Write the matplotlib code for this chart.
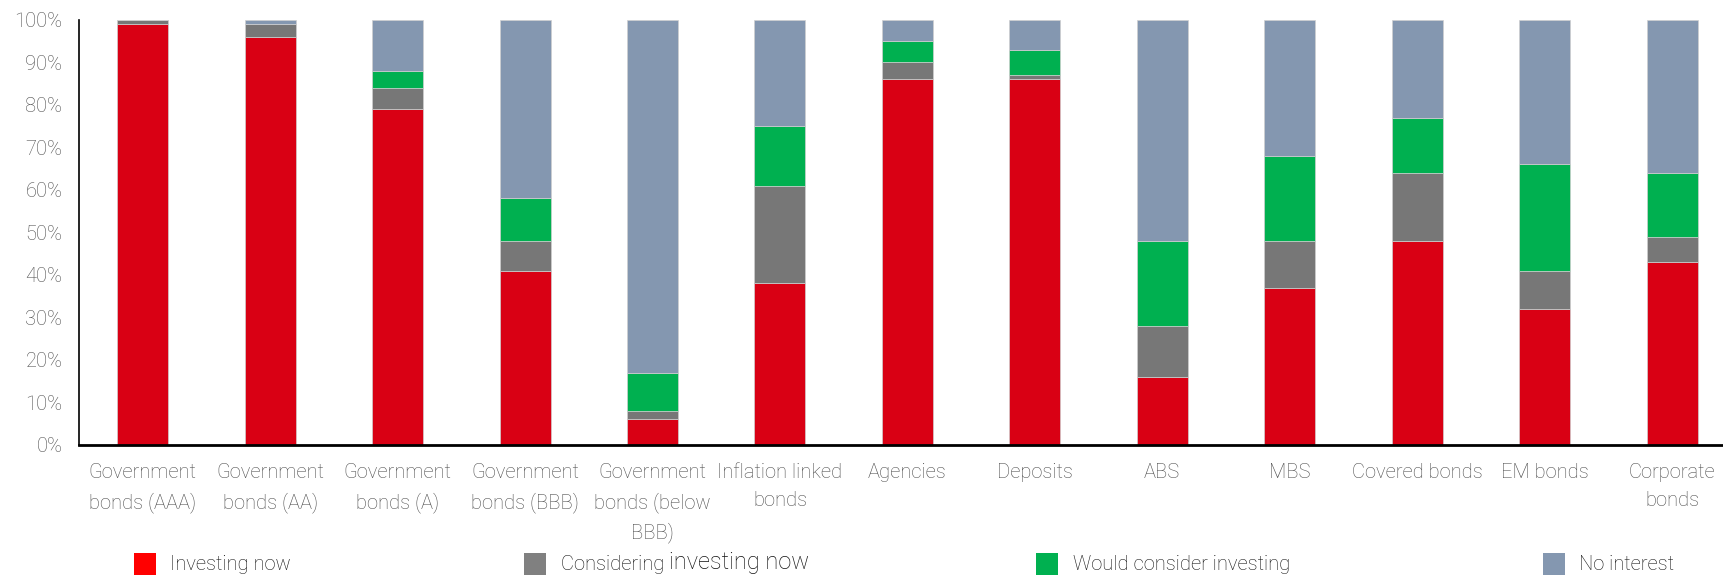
import matplotlib
matplotlib.use('Agg')
import matplotlib.pyplot as plt
import numpy as np
from matplotlib.patches import Rectangle

plt.rcParams['font.family'] = ['Roboto', 'DejaVu Sans']
plt.rcParams['font.weight'] = 'light'

# 数据（从图上读取，单位 %）
categories = ['Government\nbonds (AAA)', 'Government\nbonds (AA)', 'Government\nbonds (A)',
              'Government\nbonds (BBB)', 'Government\nbonds (below\nBBB)', 'Inflation linked\nbonds',
              'Agencies', 'Deposits', 'ABS', 'MBS', 'Covered bonds', 'EM bonds', 'Corporate\nbonds']
investing_now = [99, 96, 79, 41, 6, 38, 86, 86, 16, 37, 48, 32, 43]
considering_now = [1, 3, 5, 7, 2, 23, 4, 1, 12, 11, 16, 9, 6]
would_consider = [0, 0, 4, 10, 9, 14, 5, 6, 20, 20, 13, 25, 15]
no_interest = [0, 1, 12, 42, 83, 25, 5, 7, 52, 32, 23, 34, 36]

series_names = ['Investing now', 'Considering investing now', 'Would consider investing', 'No interest']
bar_colors = ['#D90014', '#777777', '#00B050', '#8497B0']
legend_colors = ['#FF0000', '#808080', '#00B050', '#8497B0']

fig = plt.figure(figsize=(17.23, 5.75), dpi=100)
ax = fig.add_axes([0.0459, 0.2261, 0.9541, 0.7395])

x = np.arange(len(categories))
bottom = np.zeros(len(categories))
for vals, col in zip([investing_now, considering_now, would_consider, no_interest], bar_colors):
    v = np.array(vals) / 100.0
    ax.bar(x, v, width=0.4, bottom=bottom, color=col, edgecolor='#cfcfcf', linewidth=0.5)
    bottom += v

ax.set_xlim(-0.5, 12.4)
ax.set_ylim(0, 1)
ax.set_yticks(np.arange(0, 1.01, 0.1))
ax.set_yticklabels([f'{int(round(t * 100))}%' for t in np.arange(0, 1.01, 0.1)])
ax.set_xticks(x)
ax.set_xticklabels(categories, linespacing=1.6)
ax.tick_params(axis='y', length=0, pad=12, labelsize=14.5, labelcolor='#4d4d4d')
ax.tick_params(axis='x', length=0, pad=13, labelsize=14.5, labelcolor='#4d4d4d')

ax.spines['top'].set_visible(False)
ax.spines['right'].set_visible(False)
ax.spines['left'].set_linewidth(1.2)
ax.spines['bottom'].set_linewidth(2.0)
ax.spines['left'].set_color('black')
ax.spines['bottom'].set_color('black')

# 手工画图例（位置不均匀）
W, H = 1723.0, 575.0
patch_x = [134, 524, 1036, 1543]
for px, col in zip(patch_x, legend_colors):
    fig.add_artist(Rectangle((px / W, 0.0), 22 / W, 22 / H, transform=fig.transFigure,
                             facecolor=col, edgecolor='none'))
ty = 1 / H
fig.text((134 + 36) / W, ty, 'Investing now', fontsize=14.5, color='#111111', va='bottom')
t1 = fig.text((524 + 37) / W, ty, 'Considering ', fontsize=14.5, color='#111111', va='bottom')
fig.canvas.draw()
bb = t1.get_window_extent()
fig.text(bb.x1 / W, ty, 'investing now', fontsize=17, color='#111111', va='bottom')
fig.text((1036 + 37) / W, ty, 'Would consider investing', fontsize=14.5, color='#111111', va='bottom')
fig.text((1543 + 36) / W, ty, 'No interest', fontsize=14.5, color='#111111', va='bottom')

plt.savefig('out.png', dpi=100)
